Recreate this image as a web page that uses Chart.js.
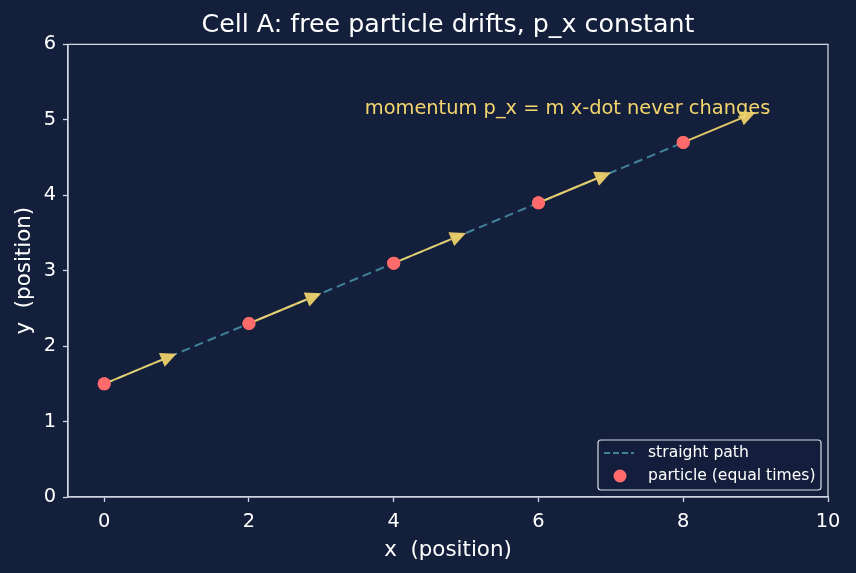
<!DOCTYPE html>
<html>
<head>
<meta charset="utf-8">
<script src="https://cdn.jsdelivr.net/npm/chart.js@4/dist/chart.umd.min.js"></script>
<style>
  html, body { margin: 0; padding: 0; background: #141f3c; }
  #wrap { width: 856px; height: 573px; }
</style>
</head>
<body>
<div id="wrap"><canvas id="myChart" width="856" height="573"></canvas></div>
<script>
// data
const posX = [0, 2, 4, 6, 8];
const posY = [1.5, 2.3, 3.1, 3.9, 4.7];
const pathX = [0, 8];
const pathY = [1.5, 4.7];
// arrow components (drawn from each particle position)
const arrowDX = [1, 1, 1, 1, 1];
const arrowDY = [0.4, 0.4, 0.4, 0.4, 0.4];
const xTicks = [0, 2, 4, 6, 8, 10];
const yTicks = [0, 1, 2, 3, 4, 5, 6];
const noteText = 'momentum p_x = m x-dot never changes';
const noteAt = [3.6, 5.15];

const FONT = "'DejaVu Sans', sans-serif";
const SPINE = '#cdd5e0';
const YELLOW = '#f4d66c';

// arrows, frame, note and legend
const extras = {
  id: 'extras',
  afterDatasetsDraw(chart) {
    const ctx = chart.ctx;
    const xs = chart.scales.x, ys = chart.scales.y;
    const area = chart.chartArea;
    ctx.save();
    // velocity arrows
    for (let i = 0; i < posX.length; i++) {
      const x0 = xs.getPixelForValue(posX[i]), y0 = ys.getPixelForValue(posY[i]);
      const x1 = xs.getPixelForValue(posX[i] + arrowDX[i]), y1 = ys.getPixelForValue(posY[i] + arrowDY[i]);
      const ang = Math.atan2(y1 - y0, x1 - x0);
      const hl = 16, hw = 7.5;
      const bx = x1 - hl * Math.cos(ang), by = y1 - hl * Math.sin(ang);
      ctx.globalAlpha = 0.92;
      ctx.strokeStyle = YELLOW;
      ctx.lineWidth = 2;
      ctx.beginPath();
      ctx.moveTo(x0, y0);
      ctx.lineTo(bx, by);
      ctx.stroke();
      ctx.fillStyle = YELLOW;
      ctx.beginPath();
      ctx.moveTo(x1, y1);
      ctx.lineTo(bx + hw * Math.sin(ang), by - hw * Math.cos(ang));
      ctx.lineTo(bx - hw * Math.sin(ang), by + hw * Math.cos(ang));
      ctx.closePath();
      ctx.fill();
      ctx.globalAlpha = 1;
    }
    // redraw points on top
    const meta = chart.getDatasetMeta(1);
    meta.data.forEach(p => p.draw(ctx));

    // frame (top + right spines)
    ctx.strokeStyle = SPINE;
    ctx.lineWidth = 1.3;
    ctx.strokeRect(area.left, area.top, area.right - area.left, area.bottom - area.top);

    // note
    ctx.fillStyle = YELLOW;
    ctx.font = '19.4px ' + FONT;
    ctx.textAlign = 'left';
    ctx.textBaseline = 'middle';
    ctx.fillText(noteText, xs.getPixelForValue(noteAt[0]), ys.getPixelForValue(noteAt[1]));

    // legend, lower right
    const lw = 223, lh = 50;
    const lx = area.right - 7 - lw, ly = area.bottom - 7 - lh;
    ctx.beginPath();
    ctx.roundRect(lx, ly, lw, lh, 3);
    ctx.fillStyle = 'rgba(20,31,60,0.85)';
    ctx.fill();
    ctx.strokeStyle = '#d8dde6';
    ctx.lineWidth = 1.2;
    ctx.stroke();
    const ds = chart.data.datasets;
    ctx.font = '15.6px ' + FONT;
    ctx.fillStyle = '#ffffff';
    ctx.fillText(ds[0].label, lx + 50, ly + 13);
    ctx.fillText(ds[1].label, lx + 50, ly + 36);
    ctx.strokeStyle = ds[0].borderColor;
    ctx.lineWidth = 2;
    ctx.setLineDash([6, 3]);
    ctx.beginPath();
    ctx.moveTo(lx + 6, ly + 13);
    ctx.lineTo(lx + 36, ly + 13);
    ctx.stroke();
    ctx.setLineDash([]);
    ctx.fillStyle = ds[1].backgroundColor;
    ctx.beginPath();
    ctx.arc(lx + 22, ly + 36, 6.5, 0, Math.PI * 2);
    ctx.fill();
    ctx.restore();
  }
};

const bar = document.getElementById('myChart');
new Chart(bar, {
  type: 'scatter',
  data: {
    datasets: [{
      label: 'straight path',
      data: pathX.map((x, i) => ({ x: x, y: pathY[i] })),
      showLine: true,
      borderColor: '#3f8299',
      borderWidth: 2,
      borderDash: [9, 5],
      pointRadius: 0,
      order: 2
    }, {
      label: 'particle (equal times)',
      data: posX.map((x, i) => ({ x: x, y: posY[i] })),
      backgroundColor: '#ff6b6b',
      borderWidth: 0,
      pointRadius: 6.5,
      order: 1
    }]
  },
  options: {
    responsive: false,
    animation: false,
    layout: { padding: { left: 0, right: 28, top: 0, bottom: 0 } },
    plugins: {
      legend: { display: false },
      tooltip: { enabled: false },
      title: {
        display: true,
        fullSize: false,
        text: 'Cell A: free particle drifts, p_x constant',
        color: '#ffffff',
        font: { family: FONT, size: 25.3, weight: 'normal', lineHeight: 1.2 },
        padding: { top: 10, bottom: 4 }
      }
    },
    scales: {
      x: {
        type: 'linear', min: -0.5, max: 10,
        afterBuildTicks: s => { s.ticks = xTicks.map(v => ({ value: v })); },
        afterFit: s => { s.height = 76; },
        grid: { drawOnChartArea: false, color: SPINE, tickLength: 5, tickWidth: 1.3 },
        border: { color: SPINE, width: 1.3 },
        ticks: { color: '#ffffff', font: { family: FONT, size: 19.4 }, padding: 8, maxRotation: 0 },
        title: { display: true, text: 'x  (position)', color: '#ffffff', font: { family: FONT, size: 21.4 }, padding: { top: 0, bottom: 10 } }
      },
      y: {
        type: 'linear', min: 0, max: 6,
        afterBuildTicks: s => { s.ticks = yTicks.map(v => ({ value: v })); },
        afterFit: s => { s.width = 68; },
        grid: { drawOnChartArea: false, color: SPINE, tickLength: 5, tickWidth: 1.3 },
        border: { color: SPINE, width: 1.3 },
        ticks: { color: '#ffffff', font: { family: FONT, size: 19.4 }, padding: 7 },
        title: { display: true, text: 'y  (position)', color: '#ffffff', font: { family: FONT, size: 21.4 }, padding: { top: 12, bottom: 4 } }
      }
    }
  },
  plugins: [extras]
});
</script>
</body>
</html>
